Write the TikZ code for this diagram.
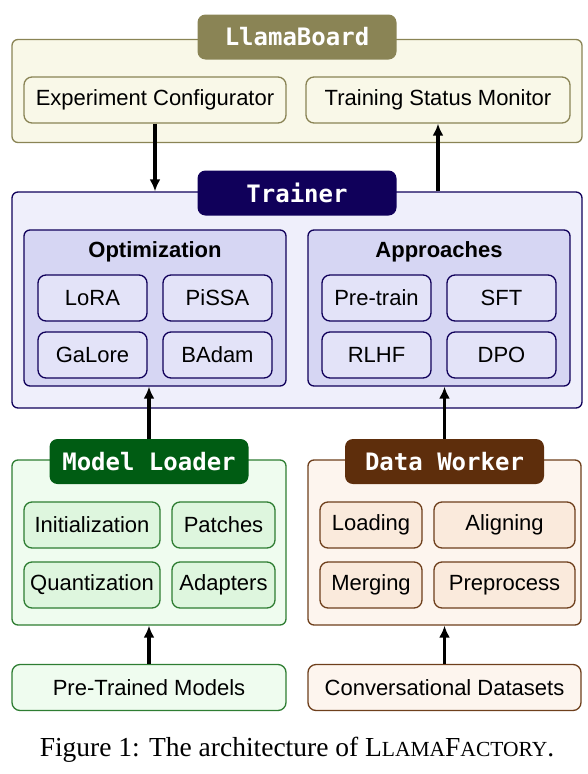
\documentclass[tikz,border=0pt]{standalone}
\usepackage{fontspec}
\setmainfont{Liberation Serif}
\setsansfont{Liberation Sans}
\newfontfamily\tabfont{DejaVu Sans Mono}
\usetikzlibrary{arrows.meta,positioning}
\definecolor{boardcol}{HTML}{8A8455}
\definecolor{boardbg}{HTML}{F9F8E8}
\definecolor{traincol}{HTML}{10005A}
\definecolor{trainbg}{HTML}{EFEFFB}
\definecolor{trainmid}{HTML}{D6D6F3}
\definecolor{trainin}{HTML}{E3E3F8}
\definecolor{loadcol}{HTML}{005C13}
\definecolor{loadedge}{HTML}{2E7D32}
\definecolor{loadbg}{HTML}{EFFCEF}
\definecolor{loadin}{HTML}{DEF6DE}
\definecolor{datacol}{HTML}{5E2E0C}
\definecolor{dataedge}{HTML}{6E3F1C}
\definecolor{databg}{HTML}{FDF5EE}
\definecolor{datain}{HTML}{FAEADC}
\newcommand{\lfname}{L{\fontsize{21.5}{24}\selectfont LAMA}F{\fontsize{21.5}{24}\selectfont ACTORY}}

\begin{document}
\begin{tikzpicture}[x=1pt,y=-1pt,>=Latex,
  outerbox/.style 2 args={draw=#1,fill=#2,line width=1.3pt,rounded corners=6pt,inner sep=0pt},
  tabbox/.style={fill=#1,rounded corners=8pt,minimum width=199,minimum height=45,
    text=white,font=\tabfont\bfseries\fontsize{24}{27}\selectfont},
  itembox/.style 2 args={draw=#1,fill=#2,line width=1.3pt,rounded corners=8pt,
    minimum height=46,font=\sffamily\fontsize{22}{25}\selectfont},
  arrowline/.style={line width=3.6pt,-{Latex[length=12pt,width=11pt]}}]
  \useasboundingbox (0,0) rectangle (588,774);

  % LlamaBoard
  \node[outerbox={boardcol}{boardbg},minimum width=570,minimum height=103] (board) at (297,91) {};
  \node[tabbox=boardcol] (boardtab) at (297,37) {LlamaBoard};
  \node[itembox={boardcol}{boardbg},minimum width=262] (conf) at (155,100) {Experiment Configurator};
  \node[itembox={boardcol}{boardbg},minimum width=264] (monitor) at (438,100) {Training Status Monitor};

  % Trainer
  \node[outerbox={traincol}{trainbg},minimum width=570,minimum height=216] (trainer) at (297,300) {};
  \node[tabbox=traincol] (trainertab) at (297,193) {Trainer};
  \node[outerbox={traincol}{trainmid},minimum width=262,minimum height=156] (optim) at (155,308) {};
  \node[outerbox={traincol}{trainmid},minimum width=262,minimum height=156] (approach) at (439,308) {};
  \node[font=\sffamily\bfseries\fontsize{22}{25}\selectfont] (optimlabel) at (155,252) {Optimization};
  \node[font=\sffamily\bfseries\fontsize{22}{25}\selectfont] (approachlabel) at (439,252) {Approaches};
  \node[itembox={traincol}{trainin},minimum width=109] (lora) at (92.5,298) {LoRA};
  \node[itembox={traincol}{trainin},minimum width=109] (pissa) at (217.5,298) {PiSSA};
  \node[itembox={traincol}{trainin},minimum width=109] (galore) at (92.5,355) {GaLore};
  \node[itembox={traincol}{trainin},minimum width=109] (badam) at (217.5,355) {BAdam};
  \node[itembox={traincol}{trainin},minimum width=109] (pretrain) at (376.5,298) {Pre-train};
  \node[itembox={traincol}{trainin},minimum width=109] (sft) at (501.5,298) {SFT};
  \node[itembox={traincol}{trainin},minimum width=109] (rlhf) at (376.5,355) {RLHF};
  \node[itembox={traincol}{trainin},minimum width=109] (dpo) at (501.5,355) {DPO};

  % Model Loader
  \node[outerbox={loadedge}{loadbg},minimum width=274,minimum height=165] (loader) at (149,542.5) {};
  \node[tabbox=loadcol] (loadertab) at (149,461.5) {Model Loader};
  \node[itembox={loadedge}{loadin},minimum width=136] (init) at (92,525) {Initialization};
  \node[itembox={loadedge}{loadin},minimum width=103] (patch) at (223.5,525) {Patches};
  \node[itembox={loadedge}{loadin},minimum width=136] (quant) at (92,585) {Quantization};
  \node[itembox={loadedge}{loadin},minimum width=103] (adapt) at (223.5,585) {Adapters};

  % Data Worker
  \node[outerbox={dataedge}{databg},minimum width=273,minimum height=165] (worker) at (444.5,542.5) {};
  \node[tabbox=datacol] (workertab) at (444.5,461.5) {Data Worker};
  \node[itembox={dataedge}{datain},minimum width=102] (loading) at (371,525) {Loading};
  \node[itembox={dataedge}{datain},minimum width=141] (align) at (504.5,525) {Aligning};
  \node[itembox={dataedge}{datain},minimum width=102] (merge) at (371,585) {Merging};
  \node[itembox={dataedge}{datain},minimum width=141] (prep) at (504.5,585) {Preprocess};

  % inputs
  \node[itembox={loadedge}{loadbg},minimum width=274] (models) at (149,687.5) {Pre-Trained Models};
  \node[itembox={dataedge}{databg},minimum width=273] (datasets) at (444.5,687.5) {Conversational Datasets};

  % arrows
  \draw[arrowline] (conf.south) -- (conf.south |- trainer.north);
  \draw[arrowline] (trainer.north -| monitor.south) -- (monitor.south);
  \draw[arrowline] (loadertab.north) -- (loadertab.north |- optim.south);
  \draw[arrowline] (workertab.north) -- (workertab.north |- approach.south);
  \draw[arrowline] (models.north) -- (models.north |- loader.south);
  \draw[arrowline] (datasets.north) -- (datasets.north |- worker.south);

  \node[font=\rmfamily\fontsize{27.5}{30}\selectfont] (caption) at (297,750) {Figure 1: The architecture of \lfname.};
\end{tikzpicture}
\end{document}
